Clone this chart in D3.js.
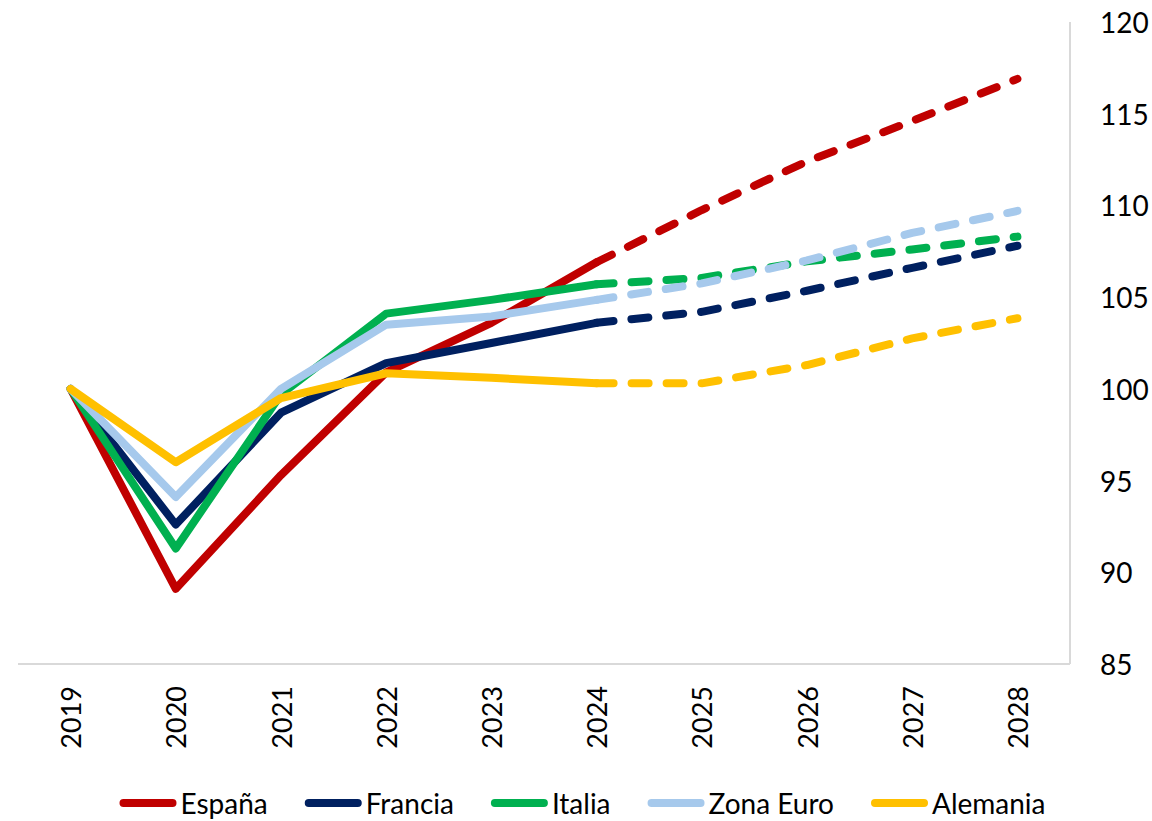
<!DOCTYPE html>
<html>
<head>
<meta charset="utf-8">
<script src="https://cdn.jsdelivr.net/npm/d3@7"></script>
<style>
  body { margin: 0; background: #fff; }
  text { font-family: Lato, "Open Sans", sans-serif; fill: #000; }
</style>
</head>
<body>
<svg id="viz" width="1152" height="821"></svg>
<script>
// years on the x axis, 2024 is the last observed year, after it forecast (dashed)
var years = ["2019", "2020", "2021", "2022", "2023", "2024", "2025", "2026", "2027", "2028"];
var lastReal = "2024";

var names = ["España", "Francia", "Italia", "Zona Euro", "Alemania"];
var colors = ["#C00000", "#002060", "#00B050", "#A6C9EC", "#FFC000"];

var espana   = [100, 89.1, 95.3, 100.9, 103.6, 106.9, 109.75, 112.4, 114.6, 116.9];
var francia  = [100, 92.6, 98.7, 101.4, 102.5, 103.6, 104.2, 105.35, 106.6, 107.8];
var italia   = [100, 91.3, 99.7, 104.1, 104.85, 105.7, 106.05, 106.95, 107.6, 108.3];
var zonaEuro = [100, 94.1, 100.0, 103.5, 103.95, 104.85, 105.75, 107.0, 108.5, 109.7];
var alemania = [100, 96.0, 99.5, 100.85, 100.6, 100.3, 100.3, 101.3, 102.75, 103.85];

var yTicks = [85, 90, 95, 100, 105, 110, 115, 120];

var series = [espana, francia, italia, zonaEuro, alemania].map(function(vals, i) {
    return {name: names[i], color: colors[i],
            points: vals.map(function(v, j) { return {year: years[j], value: v}; })};
});

var svg = d3.select("#viz");
var plotLeft = 18, plotRight = 1070, plotTop = 22, plotBottom = 664;

var x = d3.scaleBand().domain(years).range([plotLeft, plotRight]);
var y = d3.scaleLinear().domain([85, 120]).range([plotBottom, plotTop]);

// axis lines (light grey, no ticks)
svg.append("line")
    .attr("x1", plotLeft).attr("x2", plotRight)
    .attr("y1", plotBottom).attr("y2", plotBottom)
    .style("stroke", "#d9d9d9").style("stroke-width", 2);
svg.append("line")
    .attr("x1", plotRight).attr("x2", plotRight)
    .attr("y1", plotTop).attr("y2", plotBottom)
    .style("stroke", "#d9d9d9").style("stroke-width", 2);

// y labels on the right
svg.selectAll(".ylab")
    .data(yTicks)
    .enter()
    .append("text")
    .attr("class", "ylab")
    .attr("x", 1100)
    .attr("y", function(d) { return y(d); })
    .attr("dominant-baseline", "central")
    .style("font-size", "28px")
    .text(function(d) { return d; });

// x labels, rotated
svg.selectAll(".xlab")
    .data(years)
    .enter()
    .append("text")
    .attr("class", "xlab")
    .attr("transform", function(d) {
        return "translate(" + (x(d) + x.bandwidth() / 2) + "," + 686 + ") rotate(-90)";
    })
    .attr("text-anchor", "end")
    .attr("dominant-baseline", "central")
    .style("font-size", "27px")
    .text(function(d) { return d; });

var line = d3.line()
    .x(function(d) { return x(d.year) + x.bandwidth() / 2; })
    .y(function(d) { return y(d.value); });

var cut = years.indexOf(lastReal);

series.forEach(function(s) {
    svg.append("path")
        .attr("d", line(s.points.slice(0, cut + 1)))
        .style("fill", "none")
        .style("stroke", s.color)
        .style("stroke-width", 8)
        .style("stroke-linejoin", "round")
        .style("stroke-linecap", "round");
    svg.append("path")
        .attr("d", line(s.points.slice(cut)))
        .style("fill", "none")
        .style("stroke", s.color)
        .style("stroke-width", 8)
        .style("stroke-linejoin", "round")
        .style("stroke-linecap", "round")
        .style("stroke-dasharray", "17,18");
});

// legend
var legend = svg.append("g");
var lx = 0;
series.forEach(function(s) {
    var g = legend.append("g").attr("transform", "translate(" + lx + ",0)");
    g.append("line")
        .attr("x1", 4).attr("x2", 53)
        .attr("y1", 803).attr("y2", 803)
        .style("stroke", s.color)
        .style("stroke-width", 8)
        .style("stroke-linecap", "round");
    var t = g.append("text")
        .attr("x", 61)
        .attr("y", 803)
        .attr("dominant-baseline", "central")
        .style("font-size", "28px")
        .text(s.name);
    lx += 61 + t.node().getComputedTextLength() + 37;
});
lx -= 37;
legend.attr("transform", "translate(" + (582.5 - lx / 2) + ",0)");
</script>
</body>
</html>
